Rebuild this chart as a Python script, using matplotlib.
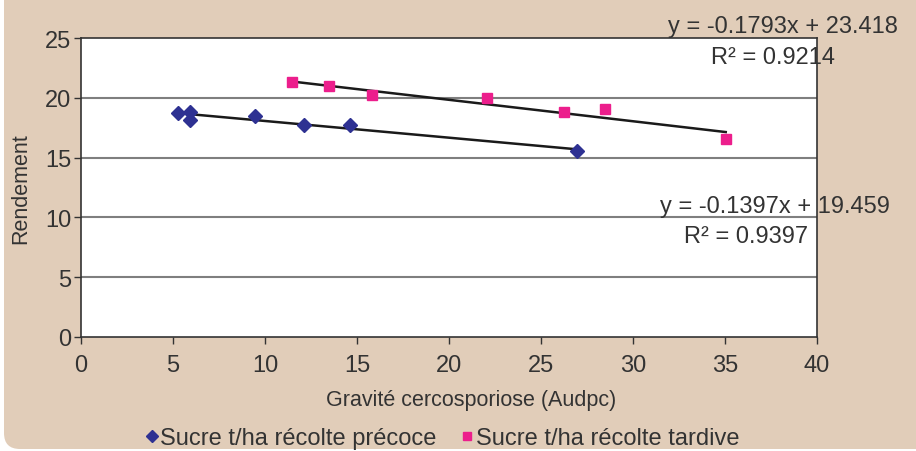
import numpy as np
import matplotlib
matplotlib.use("Agg")
import matplotlib.pyplot as plt
from matplotlib.patches import FancyBboxPatch

plt.rcParams['font.family'] = ['Liberation Sans', 'DejaVu Sans']

# early harvest (blue diamonds)
x_early = [5.27, 5.95, 5.95, 9.46, 12.1, 14.6, 26.95]
y_early = [18.72, 18.80, 18.18, 18.48, 17.73, 17.73, 15.53]
# late harvest (pink squares)
x_late = [11.48, 13.49, 15.8, 22.08, 26.23, 28.5, 35.04]
y_late = [21.30, 21.01, 20.26, 20.01, 18.84, 19.06, 16.56]

fit_early = (-0.1397, 19.459)
fit_late = (-0.1793, 23.418)
r2_early = 0.9397
r2_late = 0.9214

x_ticks = [0, 5, 10, 15, 20, 25, 30, 35, 40]
y_ticks = [0, 5, 10, 15, 20, 25]

BLUE = "#2e3192"
PINK = "#ec1e8c"
BEIGE = "#e1cdb9"

fig = plt.figure(figsize=(9.16, 4.52), dpi=100, facecolor="white")
bg = FancyBboxPatch((4, 2), 1100, 700, boxstyle="round,pad=0,rounding_size=16",
                    transform=None, facecolor=BEIGE, edgecolor="none", zorder=-10)
fig.patches.append(bg)

ax = fig.add_axes([81 / 916, 1 - 338 / 452, 736 / 916, 299 / 452])
ax.set_facecolor("white")

for y in y_ticks[1:-1]:
    ax.axhline(y, color="#7f7f7f", lw=1.5, zorder=1)

for fit, xs in [(fit_early, x_early), (fit_late, x_late)]:
    xx = np.array([min(xs), max(xs)])
    ax.plot(xx, fit[0] * xx + fit[1], color="#1a1a1a", lw=1.8, zorder=2)

ax.plot(x_early, y_early, ls="none", marker="D", ms=7.5, color=BLUE, zorder=3,
        label="Sucre t/ha récolte précoce")
ax.plot(x_late, y_late, ls="none", marker="s", ms=7, color=PINK, zorder=3,
        label="Sucre t/ha récolte tardive")

ax.set_xlim(0, 40)
ax.set_ylim(0, 25)
ax.set_xticks(x_ticks)
ax.set_yticks(y_ticks)
ax.tick_params(axis="both", direction="out", length=5, width=1, colors="#333333",
               labelsize=17, labelcolor="#333333")
ax.tick_params(axis="x", pad=7)
ax.tick_params(axis="y", pad=2)
for s in ax.spines.values():
    s.set_color("#333333")
    s.set_linewidth(1.2)

ax.set_xlabel("Gravité cercosporiose (Audpc)", fontsize=15.5, color="#333333")
ax.xaxis.set_label_coords(0.53, -0.175)
ax.set_ylabel("Rendement", fontsize=15.5, color="#333333")
ax.yaxis.set_label_coords(-0.068, 0.5)


def eq_text(fit):
    return f"y = {fit[0]:.4f}x + {fit[1]:.3f}"


kw = dict(transform=ax.transAxes, ha="right", va="baseline", fontsize=17,
          color="#333333", clip_on=False, zorder=5)
ax.text(1.11, 1.02, eq_text(fit_late), **kw)
ax.text(1.024, 0.916, f"R² = {r2_late}", **kw)
ax.text(1.099, 0.418, eq_text(fit_early), **kw)
ax.text(0.988, 0.318, f"R² = {r2_early}", **kw)

fig.legend(loc="center", bbox_to_anchor=(442 / 916, 1 - 439 / 452), ncol=2,
           frameon=False, fontsize=17, handletextpad=0.05, columnspacing=1.0,
           handlelength=0.6, markerscale=0.8, labelcolor="#333333")

fig.savefig("out.png", dpi=100, facecolor="white")
